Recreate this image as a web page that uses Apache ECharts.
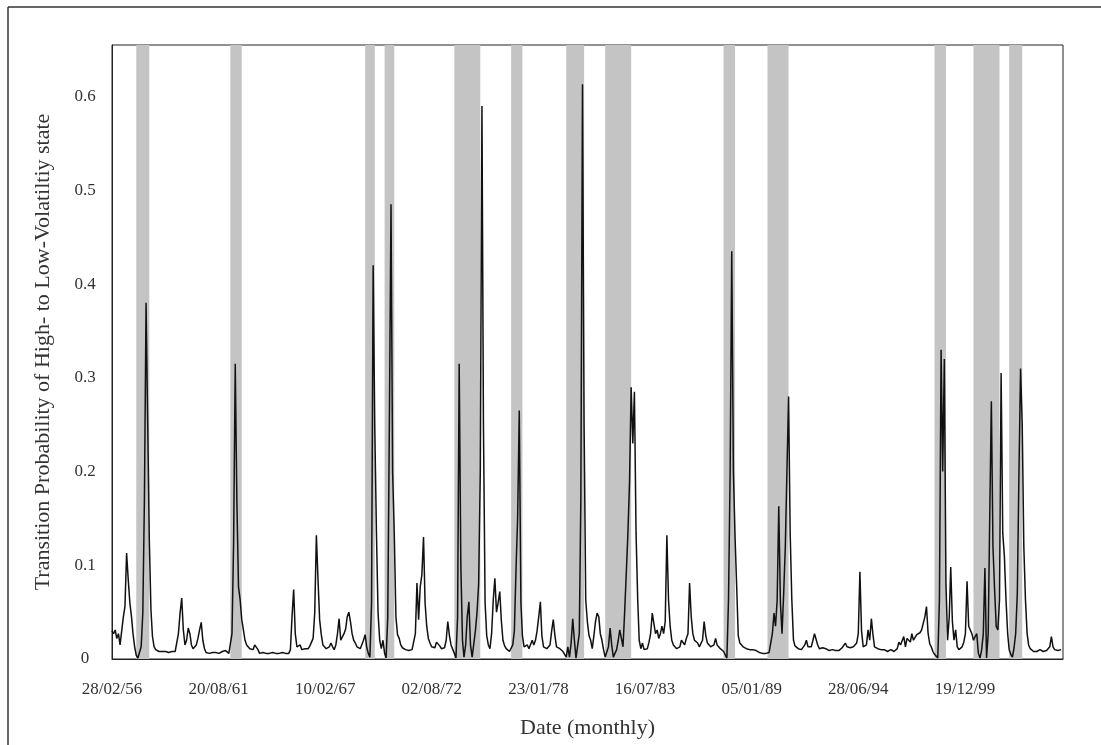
<!DOCTYPE html>
<html>
<head>
    <meta charset="utf-8">
    <title>Transition Probability of High- to Low-Volatility state</title>
    <script src="https://cdn.jsdelivr.net/npm/echarts@6/dist/echarts.min.js"></script>
    <style>
        html, body { margin: 0; padding: 0; background: #fff; }
        #chart { width: 1101px; height: 745px; }
    </style>
</head>
<body>
<div id="chart"></div>

<script type="text/javascript">
    // first observation: February 1956, one value per month
    var firstYear = 1956;
    var firstMonth = 2;

    // transition probability, high- to low-volatility state
    var probHighToLow = [
        /*1956*/ 0.030, 0.027, 0.031, 0.022, 0.027, 0.015, 0.017, 0.045, 0.056, 0.113, 0.085,
        /*1957*/ 0.060, 0.045, 0.027, 0.013, 0.004, 0.001, 0.002, 0.013, 0.049, 0.170, 0.380, 0.255,
        /*1958*/ 0.127, 0.052, 0.024, 0.013, 0.010, 0.008, 0.008, 0.007, 0.008, 0.007, 0.008, 0.008,
        /*1959*/ 0.007, 0.008, 0.008, 0.007, 0.008, 0.008, 0.027, 0.049, 0.065, 0.031, 0.015, 0.020,
        /*1960*/ 0.033, 0.027, 0.015, 0.011, 0.011, 0.015, 0.022, 0.031, 0.039, 0.020, 0.011, 0.007,
        /*1961*/ 0.007, 0.006, 0.007, 0.007, 0.006, 0.007, 0.007, 0.006, 0.007, 0.008, 0.007, 0.009,
        /*1962*/ 0.010, 0.006, 0.004, 0.027, 0.123, 0.315, 0.170, 0.077, 0.063, 0.042, 0.031, 0.020,
        /*1963*/ 0.015, 0.013, 0.011, 0.013, 0.010, 0.015, 0.017, 0.010, 0.006, 0.006, 0.007, 0.006,
        /*1964*/ 0.006, 0.007, 0.006, 0.006, 0.007, 0.005, 0.006, 0.007, 0.006, 0.006, 0.007, 0.006,
        /*1965*/ 0.006, 0.007, 0.006, 0.010, 0.045, 0.074, 0.027, 0.013, 0.011, 0.015, 0.010, 0.011,
        /*1966*/ 0.011, 0.013, 0.011, 0.014, 0.014, 0.022, 0.049, 0.132, 0.084, 0.042, 0.026, 0.015,
        /*1967*/ 0.013, 0.011, 0.010, 0.013, 0.017, 0.013, 0.010, 0.015, 0.027, 0.043, 0.020, 0.022,
        /*1968*/ 0.027, 0.032, 0.045, 0.050, 0.040, 0.027, 0.020, 0.017, 0.013, 0.011, 0.011, 0.011,
        /*1969*/ 0.020, 0.026, 0.013, 0.006, 0.002, 0.060, 0.420, 0.245, 0.134, 0.049, 0.020, 0.011,
        /*1970*/ 0.020, 0.006, 0.001, 0.045, 0.250, 0.485, 0.200, 0.134, 0.045, 0.026, 0.022, 0.015,
        /*1971*/ 0.012, 0.010, 0.010, 0.009, 0.009, 0.010, 0.010, 0.011, 0.027, 0.081, 0.042, 0.077,
        /*1972*/ 0.090, 0.130, 0.060, 0.035, 0.022, 0.017, 0.013, 0.011, 0.012, 0.018, 0.020, 0.014,
        /*1973*/ 0.011, 0.011, 0.012, 0.020, 0.040, 0.025, 0.015, 0.013, 0.006, 0.001, 0.045, 0.315,
        /*1974*/ 0.100, 0.020, 0.002, 0.015, 0.045, 0.061, 0.015, 0.002, 0.003, 0.030, 0.050, 0.080,
        /*1975*/ 0.200, 0.590, 0.250, 0.060, 0.025, 0.015, 0.011, 0.027, 0.063, 0.086, 0.050, 0.060,
        /*1976*/ 0.072, 0.040, 0.020, 0.014, 0.011, 0.009, 0.008, 0.006, 0.015, 0.030, 0.095, 0.150,
        /*1977*/ 0.265, 0.060, 0.025, 0.013, 0.011, 0.015, 0.011, 0.013, 0.020, 0.015, 0.020, 0.030,
        /*1978*/ 0.045, 0.061, 0.025, 0.013, 0.011, 0.011, 0.012, 0.015, 0.030, 0.042, 0.025, 0.013,
        /*1979*/ 0.011, 0.011, 0.009, 0.008, 0.006, 0.002, 0.013, 0.002, 0.017, 0.043, 0.020, 0.001,
        /*1980*/ 0.001, 0.027, 0.170, 0.613, 0.250, 0.063, 0.040, 0.025, 0.020, 0.011, 0.025, 0.040,
        /*1981*/ 0.049, 0.045, 0.027, 0.020, 0.010, 0.002, 0.001, 0.013, 0.033, 0.015, 0.002, 0.006,
        /*1982*/ 0.010, 0.020, 0.031, 0.022, 0.013, 0.050, 0.091, 0.134, 0.190, 0.290, 0.230, 0.285,
        /*1983*/ 0.134, 0.063, 0.020, 0.011, 0.017, 0.010, 0.010, 0.011, 0.018, 0.027, 0.049, 0.038,
        /*1984*/ 0.027, 0.031, 0.022, 0.027, 0.035, 0.027, 0.040, 0.132, 0.063, 0.035, 0.020, 0.015,
        /*1985*/ 0.013, 0.011, 0.012, 0.013, 0.020, 0.018, 0.015, 0.022, 0.027, 0.081, 0.045, 0.027,
        /*1986*/ 0.020, 0.018, 0.017, 0.013, 0.011, 0.020, 0.040, 0.025, 0.017, 0.015, 0.013, 0.011,
        /*1987*/ 0.015, 0.022, 0.015, 0.013, 0.011, 0.010, 0.008, 0.006, 0.001, 0.063, 0.200, 0.435,
        /*1988*/ 0.200, 0.130, 0.080, 0.025, 0.017, 0.015, 0.013, 0.015, 0.011, 0.013, 0.010, 0.011,
        /*1989*/ 0.010, 0.010, 0.009, 0.008, 0.007, 0.006, 0.006, 0.005, 0.006, 0.008, 0.007, 0.006,
        /*1990*/ 0.027, 0.049, 0.035, 0.063, 0.163, 0.060, 0.027, 0.070, 0.120, 0.200, 0.280, 0.134,
        /*1991*/ 0.063, 0.020, 0.014, 0.013, 0.011, 0.010, 0.010, 0.011, 0.015, 0.020, 0.013, 0.015,
        /*1992*/ 0.013, 0.020, 0.027, 0.027, 0.015, 0.011, 0.010, 0.012, 0.013, 0.011, 0.010, 0.009,
        /*1993*/ 0.010, 0.010, 0.011, 0.009, 0.008, 0.009, 0.010, 0.012, 0.013, 0.017, 0.013, 0.015,
        /*1994*/ 0.012, 0.011, 0.013, 0.014, 0.017, 0.027, 0.093, 0.030, 0.013, 0.013, 0.015, 0.031,
        /*1995*/ 0.020, 0.043, 0.027, 0.013, 0.011, 0.011, 0.010, 0.010, 0.011, 0.010, 0.009, 0.008,
        /*1996*/ 0.009, 0.010, 0.009, 0.008, 0.010, 0.011, 0.018, 0.015, 0.016, 0.024, 0.013, 0.022,
        /*1997*/ 0.020, 0.018, 0.027, 0.020, 0.023, 0.026, 0.024, 0.028, 0.031, 0.038, 0.045, 0.056,
        /*1998*/ 0.027, 0.016, 0.013, 0.008, 0.005, 0.003, 0.001, 0.063, 0.330, 0.200, 0.320, 0.081,
        /*1999*/ 0.020, 0.045, 0.098, 0.040, 0.020, 0.031, 0.013, 0.010, 0.011, 0.013, 0.018, 0.027,
        /*2000*/ 0.083, 0.035, 0.035, 0.027, 0.020, 0.024, 0.027, 0.006, 0.001, 0.010, 0.027, 0.097,
        /*2001*/ 0.001, 0.027, 0.150, 0.275, 0.120, 0.074, 0.035, 0.031, 0.063, 0.305, 0.134, 0.110,
        /*2002*/ 0.063, 0.027, 0.010, 0.005, 0.002, 0.012, 0.027, 0.070, 0.200, 0.310, 0.250, 0.120,
        /*2003*/ 0.063, 0.027, 0.015, 0.011, 0.010, 0.008, 0.008, 0.008, 0.009, 0.010, 0.009, 0.008,
        /*2004*/ 0.009, 0.009, 0.010, 0.013, 0.024, 0.013, 0.010, 0.010, 0.009, 0.009, 0.010
    ];

    // shaded periods (grey bands)
    var bandStart = ['1957-05', '1962-03', '1969-02', '1970-02', '1973-09', '1976-08', '1979-06',
        '1981-06', '1987-07', '1989-10', '1998-05', '2000-05', '2002-03'];
    var bandEnd = ['1958-01', '1962-10', '1969-08', '1970-08', '1975-01', '1977-03', '1980-05',
        '1982-10', '1988-02', '1990-11', '1998-12', '2001-09', '2002-11'];

    // x tick labels, one every 2000 days from 28/02/56
    var tickLabels = ['28/02/56', '20/08/61', '10/02/67', '02/08/72', '23/01/78',
        '16/07/83', '05/01/89', '28/06/94', '19/12/99'];
    var tickStep = 2000;
    var xMax = 17840;

    var DAY = 86400000;
    var origin = Date.UTC(1956, 1, 28);

    //days since 28/02/56 for the 28th of a given month
    function dayOf(year, month) {
        return (Date.UTC(year, month - 1, 28) - origin) / DAY;
    }

    function dayOfStr(s) {
        var p = s.split('-');
        return dayOf(+p[0], +p[1]);
    }

    var lineData = probHighToLow.map(function (v, i) {
        var k = firstMonth - 1 + i;
        return [dayOf(firstYear + Math.floor(k / 12), (k % 12) + 1), v];
    });

    var bandData = bandStart.map(function (s, i) {
        return [{xAxis: dayOfStr(s)}, {xAxis: dayOfStr(bandEnd[i])}];
    });

    var serif = '"Liberation Serif", "DejaVu Serif", serif';

    var chart = echarts.init(document.getElementById('chart'));
    chart.setOption({
        animation: false,
        backgroundColor: '#fff',
        textStyle: {fontFamily: serif},
        grid: {
            left: 112, right: 38, top: 45, bottom: 86,
            show: true, borderColor: '#222', borderWidth: 1, backgroundColor: 'transparent'
        },
        graphic: [
            {type: 'line', shape: {x1: 8, y1: 7, x2: 1101, y2: 7}, style: {stroke: '#333', lineWidth: 1.5}},
            {type: 'line', shape: {x1: 8, y1: 7, x2: 8, y2: 745}, style: {stroke: '#333', lineWidth: 1.5}}
        ],
        xAxis: {
            type: 'value',
            min: 0,
            max: xMax,
            interval: tickStep,
            name: 'Date (monthly)',
            nameLocation: 'middle',
            nameGap: 58,
            nameTextStyle: {fontFamily: serif, fontSize: 22, color: '#333'},
            axisLine: {show: true, lineStyle: {color: '#222', width: 1}},
            axisTick: {show: false},
            splitLine: {show: false},
            axisLabel: {
                fontFamily: serif,
                fontSize: 17,
                color: '#333',
                margin: 22,
                showMaxLabel: false,
                formatter: function (v) {
                    if (v % tickStep !== 0) return '';
                    return tickLabels[v / tickStep] || '';
                }
            }
        },
        yAxis: {
            type: 'value',
            min: 0,
            max: 0.655,
            interval: 0.1,
            name: 'Transition Probability of High- to Low-Volatiltiy state',
            nameLocation: 'middle',
            nameGap: 58,
            nameTextStyle: {fontFamily: serif, fontSize: 22, color: '#333'},
            axisLine: {show: true, lineStyle: {color: '#222', width: 1}},
            axisTick: {show: false},
            splitLine: {show: false},
            axisLabel: {
                fontFamily: serif,
                fontSize: 17,
                color: '#333',
                align: 'center',
                margin: 27,
                showMaxLabel: false
            }
        },
        series: [
            {
                // grey bands only
                type: 'line',
                data: [],
                z: 1,
                silent: true,
                markArea: {
                    silent: true,
                    itemStyle: {color: '#c4c4c4'},
                    data: bandData
                }
            },
            {
                type: 'line',
                data: lineData,
                z: 3,
                showSymbol: false,
                symbol: 'none',
                lineStyle: {color: '#111', width: 1.5}
            }
        ]
    });
</script>
</body>
</html>
